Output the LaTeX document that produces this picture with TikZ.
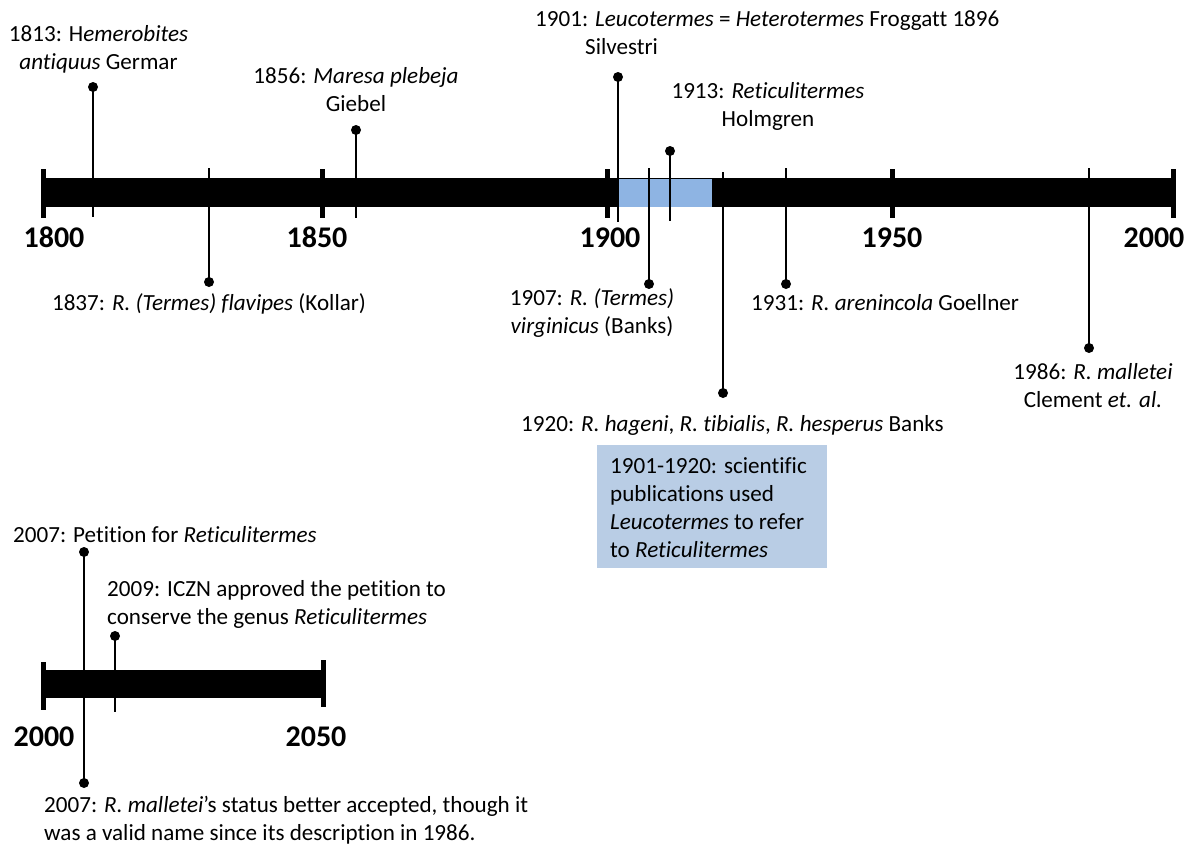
\documentclass[tikz,border=0pt]{standalone}
\usepackage{fontspec}
\setmainfont{Carlito}[Ligatures=NoCommon]
\definecolor{barblue}{RGB}{142,180,227}
\definecolor{boxblue}{RGB}{185,205,229}
\begin{document}
\begin{tikzpicture}[x=1pt,y=-1pt,
  evt/.style={font=\fontsize{23.1}{28}\selectfont, inner sep=0pt, anchor=base},
  evtl/.style={evt, anchor=base west},
  yr/.style={font=\bfseries\fontsize{30}{36}\selectfont, inner sep=0pt, anchor=base},
  dot/.style={circle, fill=black, inner sep=0pt, minimum size=10pt},
  stem/.style={line width=1.5pt},
  tickmark/.style={line width=5pt},
  bar/.style={fill=black}]
\useasboundingbox (0,0) rectangle (1196,846);
% main bar
\fill[bar] (43,178) rectangle (1173,207);
\fill[barblue] (618,178.5) rectangle (712,206.5);
\foreach \x in {43,322,607,892,1173}{\draw[tickmark] (\x,169) -- (\x,218);}
% year labels
\node[yr] (y1800) at (54,247) {1800};
\node[yr] (y1850) at (317,247) {1850};
\node[yr] (y1900) at (610,247) {1900};
\node[yr] (y1950) at (892,247) {1950};
\node[yr] (y2000) at (1154,247) {2000};
% events above
\node[dot] (d1813) at (93,87) {};   \coordinate (e1813) at (93,217);
\node[dot] (d1856) at (356,130) {}; \coordinate (e1856) at (356,218);
\node[dot] (d1901) at (618,77) {};  \coordinate (e1901) at (618,222);
\node[dot] (d1913) at (670,151) {}; \coordinate (e1913) at (670,221);
% events below
\node[dot] (d1837) at (209,282) {}; \coordinate (e1837) at (209,168);
\node[dot] (d1907) at (649,284) {}; \coordinate (e1907) at (649,168);
\node[dot] (d1920) at (723,393) {}; \coordinate (e1920) at (723,172);
\node[dot] (d1931) at (786,284) {}; \coordinate (e1931) at (786,168);
\node[dot] (d1986) at (1089,348) {}; \coordinate (e1986) at (1089,168);
\foreach \n in {1813,1856,1901,1913,1837,1907,1920,1931,1986}{\draw[stem] (d\n.center) -- (e\n);}
% labels
\node[evt] (t1813) at (98.5,41) {\begin{tabular}[t]{@{}c@{}}1813: H\textit{emerobites}\\\textit{antiquus} Germar\end{tabular}};
\node[evt] (t1856) at (356,83) {\begin{tabular}[t]{@{}c@{}}1856: \textit{Maresa plebeja}\\Giebel\end{tabular}};
\node[evt] (t1837) at (209,310) {1837: \textit{R. (Termes) flavipes} (Kollar)};
\node[evtl] (t1901) at (535,26) {\begin{tabular}[t]{@{}l@{}}1901: \textit{Leucotermes} = \textit{Heterotermes} Froggatt 1896\\\hspace{50pt}Silvestri\end{tabular}};
\node[evt] (t1913) at (768,98) {\begin{tabular}[t]{@{}c@{}}1913: \textit{Reticulitermes}\\Holmgren\end{tabular}};
\node[evt] (t1907) at (592,305) {\begin{tabular}[t]{@{}c@{}}1907: \textit{R. (Termes)}\\\textit{virginicus} (Banks)\end{tabular}};
\node[evtl] (t1931) at (751,310) {1931: \textit{R. arenincola} Goellner};
\node[evt] (t1986) at (1093,379) {\begin{tabular}[t]{@{}c@{}}1986: \textit{R. malletei}\\Clement \textit{et. al.}\end{tabular}};
\node[evtl] (t1920) at (521,431) {1920: \textit{R. hageni}, \textit{R. tibialis}, \textit{R. hesperus} Banks};
% blue box
\fill[boxblue] (597,445) rectangle (827,568);
\node[evtl] (tbox) at (610,473) {\begin{tabular}[t]{@{}l@{}}1901-1920: scientific\\publications used\\\textit{Leucotermes} to refer\\to \textit{Reticulitermes}\end{tabular}};
% second timeline
\fill[bar] (43,670) rectangle (323,698);
\draw[tickmark] (43,662) -- (43,710);
\draw[tickmark] (323,660) -- (323,707);
\node[yr] (y2000b) at (44,746) {2000};
\node[yr] (y2050) at (316,746) {2050};
\node[dot] (d2007a) at (84,552) {};
\node[dot] (d2007b) at (84,783) {};
\draw[stem] (d2007a.center) -- (d2007b.center);
\node[dot] (d2009) at (115,636) {}; \coordinate (e2009) at (115,712);
\draw[stem] (d2009.center) -- (e2009);
\node[evtl] (t2007a) at (13,542) {2007: Petition for \textit{Reticulitermes}};
\node[evtl] (t2009) at (107,596) {\begin{tabular}[t]{@{}l@{}}2009: ICZN approved the petition to\\conserve the genus \textit{Reticulitermes}\end{tabular}};
\node[evtl] (t2007b) at (44,812) {\begin{tabular}[t]{@{}l@{}}2007: \textit{R. malletei}’s status better accepted, though it\\was a valid name since its description in 1986.\end{tabular}};
\end{tikzpicture}
\end{document}
